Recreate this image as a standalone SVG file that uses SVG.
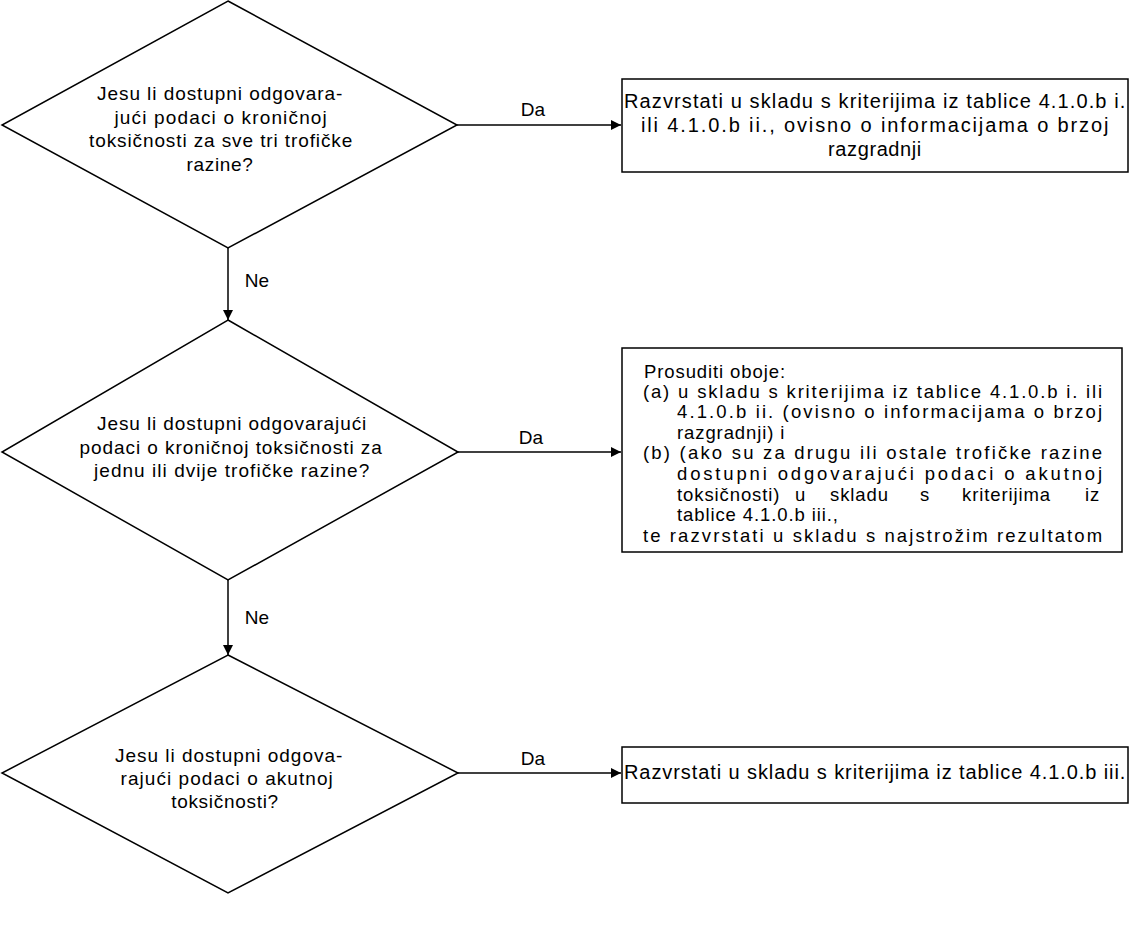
<svg xmlns="http://www.w3.org/2000/svg" width="1138" height="945" viewBox="0 0 1138 945">
<style>
.shape{fill:#fff;stroke:#000;stroke-width:1.5}
.edge{fill:none;stroke:#000;stroke-width:1.5}
text{font-family:"Liberation Sans",Arial,sans-serif;fill:#000}
.d{font-size:19px;text-anchor:middle;letter-spacing:0.7px}
.b{font-size:20px;letter-spacing:0.6px}
.s{font-size:18.5px;letter-spacing:0.9px}
.lbl{font-size:19px;text-anchor:middle}
</style>
<defs>
<marker id="ah" viewBox="0 0 10 10" refX="10" refY="5" markerWidth="11" markerHeight="10" markerUnits="userSpaceOnUse" orient="auto">
<path d="M0,0 L10,5 L0,10 z" fill="#000"/>
</marker>
</defs>
<rect width="1138" height="945" fill="#fff"/>
<g id="connectors">
<line class="edge" x1="457" y1="125" x2="621" y2="125" marker-end="url(#ah)"/>
<line class="edge" x1="228" y1="248" x2="228" y2="320" marker-end="url(#ah)"/>
<line class="edge" x1="458" y1="452" x2="621" y2="452" marker-end="url(#ah)"/>
<line class="edge" x1="228" y1="580" x2="228" y2="655" marker-end="url(#ah)"/>
<line class="edge" x1="458" y1="773" x2="621" y2="773" marker-end="url(#ah)"/>
<text class="lbl" x="533" y="116">Da</text>
<text class="lbl" x="531" y="444">Da</text>
<text class="lbl" x="533" y="765">Da</text>
<text class="lbl" x="257" y="287">Ne</text>
<text class="lbl" x="257" y="624">Ne</text>
</g>
<g id="q1">
<polygon class="shape" points="228,1 457,125 228,248 2,125"/>
<text class="d" x="220" y="100" textLength="246" lengthAdjust="spacing">Jesu li dostupni odgovara-</text>
<text class="d" x="221" y="124" textLength="213" lengthAdjust="spacing">jući podaci o kroničnoj</text>
<text class="d" x="221" y="147" textLength="264" lengthAdjust="spacing">toksičnosti za sve tri trofičke</text>
<text class="d" x="220" y="171">razine?</text>
</g>
<g id="r1">
<rect class="shape" x="622" y="79" width="506" height="93"/>
<text class="b" x="624" y="108" textLength="502" lengthAdjust="spacing">Razvrstati u skladu s kriterijima iz tablice 4.1.0.b i.</text>
<text class="b" x="641" y="132" textLength="468" lengthAdjust="spacing">ili 4.1.0.b ii., ovisno o informacijama o brzoj</text>
<text class="b" x="875" y="156" text-anchor="middle">razgradnji</text>
</g>
<g id="q2">
<polygon class="shape" points="228,320 458,452 228,580 2,452"/>
<text class="d" x="232" y="430" textLength="270" lengthAdjust="spacing">Jesu li dostupni odgovarajući</text>
<text class="d" x="231" y="454" textLength="303" lengthAdjust="spacing">podaci o kroničnoj toksičnosti za</text>
<text class="d" x="232" y="477" textLength="276" lengthAdjust="spacing">jednu ili dvije trofičke razine?</text>
</g>
<g id="r2">
<rect class="shape" x="622" y="348" width="500" height="204"/>
<text class="s" x="644" y="378">Prosuditi oboje:</text>
<text class="s" x="643" y="398" textLength="460" lengthAdjust="spacing">(a) u skladu s kriterijima iz tablice 4.1.0.b i. ili</text>
<text class="s" x="677" y="418" textLength="426" lengthAdjust="spacing">4.1.0.b ii. (ovisno o informacijama o brzoj</text>
<text class="s" x="677" y="439">razgradnji) i</text>
<text class="s" x="643" y="459" textLength="460" lengthAdjust="spacing">(b) (ako su za drugu ili ostale trofičke razine</text>
<text class="s" x="677" y="480" textLength="426" lengthAdjust="spacing">dostupni odgovarajući podaci o akutnoj</text>
<text class="s" y="501"><tspan x="677">toksičnosti)</tspan><tspan x="795">u</tspan><tspan x="830">skladu</tspan><tspan x="920">s</tspan><tspan x="962">kriterijima</tspan><tspan x="1085">iz</tspan></text>
<text class="s" x="677" y="521">tablice 4.1.0.b iii.,</text>
<text class="s" x="643" y="542" textLength="460" lengthAdjust="spacing">te razvrstati u skladu s najstrožim rezultatom</text>
</g>
<g id="q3">
<polygon class="shape" points="228,655 458,773 228,893 2,773"/>
<text class="d" x="229" y="762" textLength="228" lengthAdjust="spacing">Jesu li dostupni odgova-</text>
<text class="d" x="227" y="785" textLength="213" lengthAdjust="spacing">rajući podaci o akutnoj</text>
<text class="d" x="225" y="808">toksičnosti?</text>
</g>
<g id="r3">
<rect class="shape" x="622" y="747" width="506" height="56"/>
<text class="b" x="624" y="779" textLength="502" lengthAdjust="spacing">Razvrstati u skladu s kriterijima iz tablice 4.1.0.b iii.</text>
</g>
</svg>
